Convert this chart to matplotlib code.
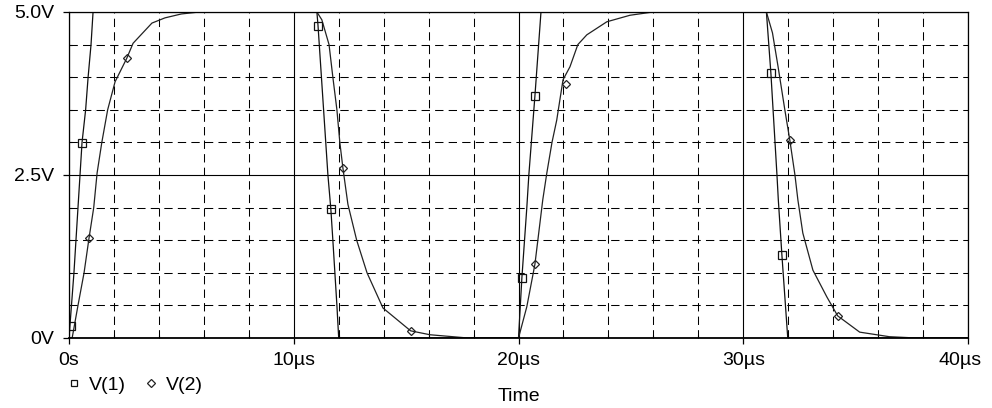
import matplotlib
matplotlib.use('Agg')
import matplotlib.pyplot as plt
import matplotlib.transforms as mtransforms
from matplotlib.ticker import MultipleLocator

plt.rcParams['font.family'] = ['Liberation Sans', 'DejaVu Sans']

# time in microseconds, voltage in volts
t1 = [0.0, 0.22, 0.40, 0.49, 0.58, 0.74, 0.85, 0.98, 1.07,
      11.03, 11.08, 11.52, 11.65, 11.74, 11.83, 11.92, 12.0,
      20.0, 20.15, 20.37, 20.46, 20.73, 21.0,
      31.03, 31.23, 31.5, 31.56, 31.72, 31.98, 40.0]
v1 = [0.0, 1.0, 2.0, 2.5, 3.0, 3.5, 4.0, 4.5, 5.0,
      5.0, 4.79, 2.5, 1.98, 1.5, 1.0, 0.5, 0.0,
      0.0, 0.92, 2.0, 2.5, 3.71, 5.0,
      5.0, 4.06, 2.5, 2.12, 1.27, 0.0, 0.0]

t2 = [0.0, 0.14, 0.40, 0.67, 0.89, 1.10, 1.25, 1.46, 1.72, 2.05, 2.57, 2.85, 3.69, 4.27, 5.0, 5.8,
      11.03, 11.25, 11.57, 11.74, 11.92, 12.05, 12.19, 12.41, 12.8, 13.26, 13.97, 15.2, 16.06, 17.75,
      20.0, 20.37, 20.73, 21.08, 21.26, 21.49, 21.7, 21.98, 22.29, 22.64, 23.04, 23.93, 24.96, 25.98,
      31.03, 31.3, 31.55, 31.85, 32.07, 32.3, 32.43, 32.65, 33.1, 33.72, 34.2, 35.18, 36.5, 37.7, 40.0]
v2 = [0.0, 0.0, 0.5, 1.0, 1.53, 2.0, 2.53, 3.0, 3.5, 3.93, 4.29, 4.52, 4.83, 4.91, 4.97, 5.0,
      5.0, 4.88, 4.5, 4.0, 3.5, 3.0, 2.6, 2.05, 1.5, 1.0, 0.46, 0.11, 0.05, 0.0,
      0.0, 0.48, 1.13, 2.12, 2.53, 3.0, 3.34, 3.96, 4.16, 4.5, 4.65, 4.85, 4.95, 5.0,
      5.0, 4.68, 4.16, 3.5, 3.04, 2.5, 2.12, 1.61, 1.04, 0.63, 0.34, 0.09, 0.02, 0.0, 0.0]

# marker positions
m1_t = [0.09, 0.58, 11.08, 11.65, 20.15, 20.73, 31.23, 31.72]
m1_v = [0.18, 2.99, 4.79, 1.98, 0.92, 3.71, 4.06, 1.27]
m2_t = [0.89, 2.57, 12.19, 15.2, 20.73, 22.1, 32.07, 34.2]
m2_v = [1.53, 4.29, 2.6, 0.11, 1.13, 3.9, 3.04, 0.34]

x_ticks = [0, 10, 20, 30, 40]
x_labels = ['0s', '10\u00b5s', '20\u00b5s', '30\u00b5s', '40\u00b5s']
y_ticks = [0, 2.5, 5.0]
y_labels = ['0V', '2.5V', '5.0V']

FS = 14

fig = plt.figure(figsize=(9.92, 4.08), dpi=100)
ax = fig.add_axes([69/992, 70/408, 899/992, 326/408])

ax.plot(t1, v1, color='#111111', lw=0.9)
ax.plot(t2, v2, color='#222222', lw=0.9)
sq, = ax.plot(m1_t, m1_v, ls='none', marker='s', ms=5.5, mfc='none', mec='#111111', mew=0.9)
dm, = ax.plot(m2_t, m2_v, ls='none', marker='D', ms=4.5, mfc='none', mec='#222222', mew=0.9)

ax.set_xlim(0, 40)
ax.set_ylim(0, 5)
ax.set_xticks(x_ticks)
ax.set_xticklabels(x_labels)
ax.set_yticks(y_ticks)
ax.set_yticklabels(y_labels)
ax.xaxis.set_minor_locator(MultipleLocator(2))
ax.yaxis.set_minor_locator(MultipleLocator(0.5))

ax.grid(which='major', color='black', ls='-', lw=0.8)
ax.grid(which='minor', color='black', ls=(0, (8, 5)), lw=0.75)
ax.set_axisbelow(True)

for s in ax.spines.values():
    s.set_linewidth(0.9)
ax.spines['bottom'].set_linewidth(1.3)

ax.tick_params(which='major', direction='out', length=4.5, width=0.9, labelsize=FS, pad=5.5)
ax.tick_params(axis='y', which='major', pad=6)
ax.tick_params(which='minor', direction='in', length=2, width=0.8)

# last x label sits a little left like the original
lab = ax.get_xticklabels()[-1]
lab.set_transform(lab.get_transform() + mtransforms.ScaledTranslation(-0.08, 0, fig.dpi_scale_trans))

ax.set_xlabel('Time', fontsize=FS, labelpad=14)

fig.legend([sq, dm], ['V(1)', 'V(2)'], loc='center left', bbox_to_anchor=(67/992, 1 - 385/408),
           ncol=2, frameon=False, fontsize=FS, handlelength=0.75, handletextpad=0.4,
           columnspacing=0.9, borderpad=0, borderaxespad=0, markerscale=0.85)

fig.savefig('out.png', dpi=100)
